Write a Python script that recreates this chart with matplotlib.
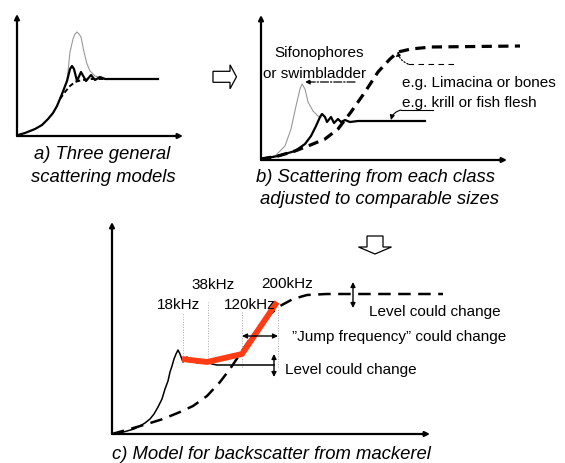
import matplotlib
matplotlib.use("Agg")
import matplotlib.pyplot as plt
from matplotlib.patches import FancyArrow

plt.rcParams['font.family'] = ['Liberation Sans', 'DejaVu Sans']

#=== panel a: three general models (local units = px from origin) ===
a_solid_x = [0, 1, 8, 18, 25, 31, 36, 40, 45, 50, 53, 55, 57, 60, 64, 69, 74, 78, 83, 88, 141]
a_solid_y = [0, 1, 3, 7, 11, 17, 23, 30, 42, 55, 67, 70, 67, 55, 64, 55, 61, 56, 59, 57, 57]
a_peak_x = [50, 53, 56, 58, 60, 62, 64, 67, 70, 73, 78, 85, 91]
a_peak_y = [55, 84, 97, 102, 104, 102, 99, 84, 72, 65, 60, 58, 57]
a_dash_x = [43, 48, 53, 58, 65, 75, 108]
a_dash_y = [37, 44, 50, 54, 56, 57, 57]

#=== panel b: each class at comparable sizes ===
b_dash_x = [0, 17, 34, 47, 64, 77, 90, 104, 117, 129, 137, 150, 170, 259]
b_dash_y = [1, 4, 9, 14, 21, 31, 48, 68, 88, 101, 108, 111, 113, 114]
b_gray_x = [0, 14, 24, 30, 35, 39, 41, 44, 47, 52, 57, 60]
b_gray_y = [1, 4, 14, 31, 54, 71, 76, 71, 58, 49, 44, 43]
b_solid_x = [0, 17, 34, 44, 50, 55, 59, 61, 64, 66, 70, 73, 77, 80, 84, 89, 97, 164]
b_solid_y = [1, 4, 9, 16, 24, 34, 43, 46, 43, 38, 43, 37, 41, 38, 40, 38, 39, 39]

#=== panel c: mackerel model ===
c_solid_x = [0, 1, 8, 15, 22, 28, 33, 38, 42, 46, 50, 53, 56, 58, 60, 62, 64, 66, 68, 71, 75, 78, 81, 85, 88, 91, 95, 100, 105, 162]
c_solid_y = [0, 0, 1, 3, 5, 8, 11, 15, 20, 27, 35, 45, 53, 62, 68, 75, 80, 84, 80, 72, 77, 72, 75, 71, 73, 71, 72, 70, 69, 69]
c_dash_x = [0, 18, 35, 51, 68, 81, 95, 108, 118, 128, 138, 148, 158, 168, 181, 195, 215, 331]
c_dash_y = [0, 5, 10, 15, 22, 28, 38, 52, 65, 80, 95, 108, 120, 128, 135, 139, 140, 140]
freq_labels = ['18kHz', '38kHz', '120kHz', '200kHz']
freq_x = [71, 96, 130, 166]
freq_line_top = [122, 132, 123, 127]
freq_line_bot = [73, 72, 67, 67]
freq_label_x = [66, 101, 138, 175]
freq_label_y = [130, 150, 130, 151]
red_x = [70, 95, 130, 165]
red_y = [75, 72, 80, 132]

W, H = 565, 464
fig = plt.figure(figsize=(W / 100, H / 100), dpi=100)

def panel(x0, y0, w, h):
    ax = fig.add_axes([x0 / W, (H - y0) / H, w / W, h / H])
    ax.set_xlim(0, w)
    ax.set_ylim(0, h)
    ax.axis('off')
    return ax

def axes_arrows(ax, xe, ye):
    ap = dict(arrowstyle='-|>', lw=1.6, color='black', mutation_scale=7, shrinkA=0, shrinkB=0)
    ax.annotate('', xy=(xe, 0), xytext=(0, 0), arrowprops=ap)
    ax.annotate('', xy=(0, ye), xytext=(0, 0), arrowprops=ap)

# panel a
axa = panel(17, 137, 170, 125)
axes_arrows(axa, 166, 122)
axa.plot(a_peak_x, a_peak_y, color='#999999', lw=0.8)
axa.plot(a_dash_x, a_dash_y, color='black', lw=1.4, dashes=(2.5, 1.5))
axa.plot(a_solid_x, a_solid_y, color='black', lw=1.6)

# panel b
axb = panel(261, 161, 300, 150)
axes_arrows(axb, 246, 145)
axb.plot(b_gray_x, b_gray_y, color='#999999', lw=0.8)
axb.plot(b_solid_x, b_solid_y, color='black', lw=1.6)
axb.plot(b_dash_x, b_dash_y, color='black', lw=2.3, dashes=(3.2, 2.0))
axb.text(58, 108, 'Sifonophores', ha='center', va='center', fontsize=11)
axb.text(54, 87, 'or swimbladder', ha='center', va='center', fontsize=11)
axb.annotate('', xy=(44, 78), xytext=(94, 78),
             arrowprops=dict(arrowstyle='-|>', lw=0.9, ls='-.', color='black',
                             mutation_scale=7, shrinkA=0, shrinkB=0))
axb.text(141, 78, 'e.g. Limacina or bones', ha='left', va='center', fontsize=11)
axb.text(141, 58, 'e.g. krill or fish flesh', ha='left', va='center', fontsize=11)
axb.plot([147, 197], [96, 96], color='black', lw=0.8, dashes=(5, 4))
axb.annotate('', xy=(137, 109), xytext=(147, 96),
             arrowprops=dict(arrowstyle='-|>', lw=0.9, ls=':', color='black',
                             mutation_scale=7, shrinkA=0, shrinkB=0,
                             connectionstyle='arc3,rad=-0.3'))
axb.plot([140, 172], [50, 50], color='black', lw=0.8)
axb.annotate('', xy=(130, 40), xytext=(140, 50),
             arrowprops=dict(arrowstyle='-|>', lw=0.8, color='black',
                             mutation_scale=7, shrinkA=0, shrinkB=0,
                             connectionstyle='arc3,rad=0.3'))

# panel c
axc = panel(112, 435, 440, 215)
axes_arrows(axc, 318, 212)
for fx, t, b in zip(freq_x, freq_line_top, freq_line_bot):
    axc.plot([fx, fx], [b, t], color='#aaaaaa', lw=0.7, ls=':')
for lab, lx, ly in zip(freq_labels, freq_label_x, freq_label_y):
    axc.text(lx, ly, lab, ha='center', va='center', fontsize=11)
axc.plot(c_solid_x, c_solid_y, color='black', lw=1.1)
axc.plot(c_dash_x, c_dash_y, color='black', lw=1.8, dashes=(5, 3))
axc.plot(red_x, red_y, color='#ff3c14', lw=4.2, solid_capstyle='butt')
dbl = dict(arrowstyle='<|-|>', lw=1.0, color='black', mutation_scale=7, shrinkA=0, shrinkB=0)
axc.annotate('', xy=(166, 98), xytext=(130, 98), arrowprops=dbl)
axc.text(180, 98, '\u201dJump frequency\u201d could change', ha='left', va='center', fontsize=11)
axc.annotate('', xy=(162, 80), xytext=(162, 57), arrowprops=dbl)
axc.text(173, 65, 'Level could change', ha='left', va='center', fontsize=11)
axc.annotate('', xy=(241, 152), xytext=(241, 126), arrowprops=dbl)
axc.text(257, 123, 'Level could change', ha='left', va='center', fontsize=11)

# captions and hollow arrows (figure pixels)
ov = fig.add_axes([0, 0, 1, 1], zorder=-1)
ov.set_xlim(0, W)
ov.set_ylim(H, 0)
ov.axis('off')
cap = dict(ha='center', va='center', fontsize=13.3, style='italic')
ov.text(102, 155, 'a) Three general', **cap)
ov.text(103, 178, 'scattering models', **cap)
ov.text(376, 178, 'b) Scattering from each class', **cap)
ov.text(380, 200, 'adjusted to comparable sizes', **cap)
ov.text(271, 455, 'c) Model for backscatter from mackerel', **cap)
ov.add_patch(FancyArrow(213, 77.8, 23.5, 0, width=11, head_width=24, head_length=6.5,
                        length_includes_head=True, fc='white', ec='black', lw=0.9))
ov.add_patch(FancyArrow(375, 237, 0, 18, width=16, head_width=33, head_length=7,
                        length_includes_head=True, fc='white', ec='black', lw=0.9))

fig.savefig('out.png', dpi=100)
